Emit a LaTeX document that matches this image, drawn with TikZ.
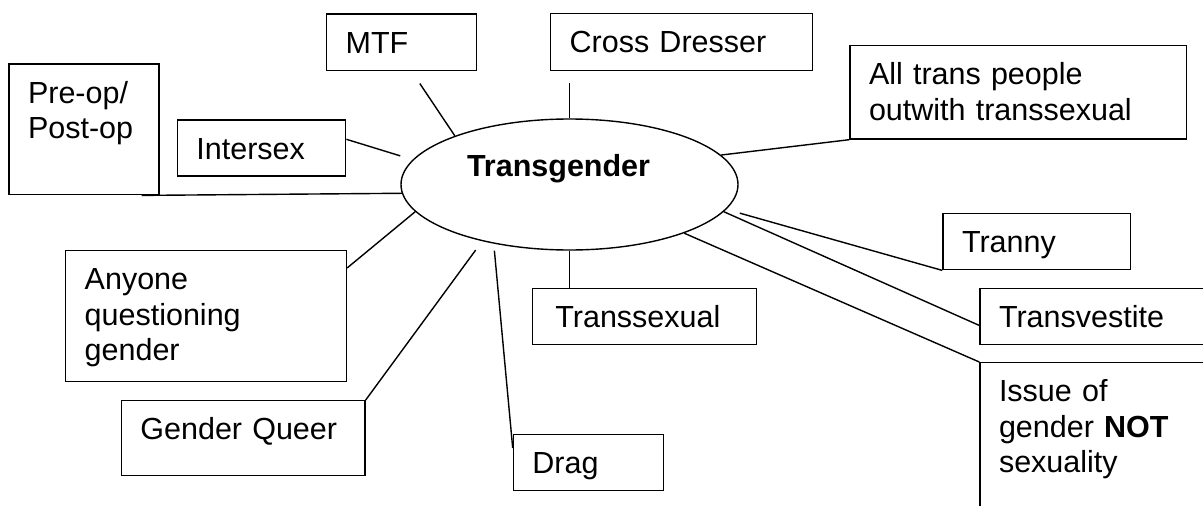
\documentclass[tikz,border=0pt]{standalone}
\usepackage{fontspec}
\setmainfont{Liberation Sans}
\usetikzlibrary{shapes.geometric}
\tikzset{
    box/.style={draw, anchor=north west, align=left,
        inner xsep=19pt, inner ysep=17pt, text height=22pt},
    hub/.style={ellipse, draw, inner sep=0pt, minimum width=337pt, minimum height=131pt,
        text width=205pt, align=left, text height=22pt, text depth=39pt}
}
\begin{document}
\begin{tikzpicture}[x=1pt, y=-1pt, line width=1.4pt, font=\fontsize{30.5}{35.5}\selectfont]
        \clip (0,0) rectangle (1203,506);
        \node[hub] (tg) at (569.5,184.5) {\textbf{Transgender}};
        \node[box, text width=112pt, text depth=74.7pt] (po) at (8.3,63.3) {Pre-op/\\Post-op};
        \node[box, text width=112pt, text depth=0.7pt] (mtf) at (326,13.3) {MTF};
        \node[box, text width=224pt, text depth=1pt] (cd) at (550,13) {Cross Dresser};
        \node[box, text width=298.4pt, text depth=37.3pt] (all) at (849.3,45) {All trans people\\outwith transsexual};
        \node[box, text width=130.3pt, text depth=0pt] (ix) at (176.7,119.3) {Intersex};
        \node[box, text width=149.7pt, text depth=0.3pt] (tr) at (942.3,212.7) {Tranny};
        \node[box, text width=262pt, text depth=0.5pt] (tv) at (979.3,287.5) {Transvestite};
        \node[box, text width=262pt, text depth=150pt] (is) at (979.3,362) {Issue of\\gender \textbf{NOT}\\sexuality};
        \node[box, text width=186.3pt, text depth=0pt] (ts) at (531.7,287.7) {\hspace*{4pt}Transsexual};
        \node[box, text width=112pt, text depth=0pt] (dr) at (512.7,434) {Drag};
        \node[box, text width=205.6pt, text depth=19pt] (gq) at (120.7,400) {Gender Queer};
        \node[box, text width=242.7pt, text depth=75pt] (aq) at (65,250) {Anyone\\questioning\\gender};
        \draw ([xshift=-18pt]po.south east) -- (tg.183);
        \draw[shorten >=13pt] ([yshift=-20pt]ix.north east) -- (tg.171);
        \draw[shorten >=14.6pt] (tg.157) -- ([xshift=10pt]mtf.south);
        \draw[shorten >=12pt] (tg.north) -- (tg.north |- cd.south);
        \draw (tg.11) -- (all.south west);
        \draw[shorten <=14pt] (tg.-9.5) -- (tr.south west);
        \draw (tg.-10.7) -- ([yshift=-9pt]tv.west);
        \draw (tg.-23) -- (is.north west);
        \draw (tg.south) -- (tg.south |- ts.north);
        \draw[shorten <=7pt] (tg.218) -- ([yshift=-14pt]dr.north west);
        \draw[shorten <=11pt] (tg.213) -- (gq.north east);
        \draw (tg.190.7) -- ([yshift=-18pt]aq.north east);
\end{tikzpicture}
\end{document}
